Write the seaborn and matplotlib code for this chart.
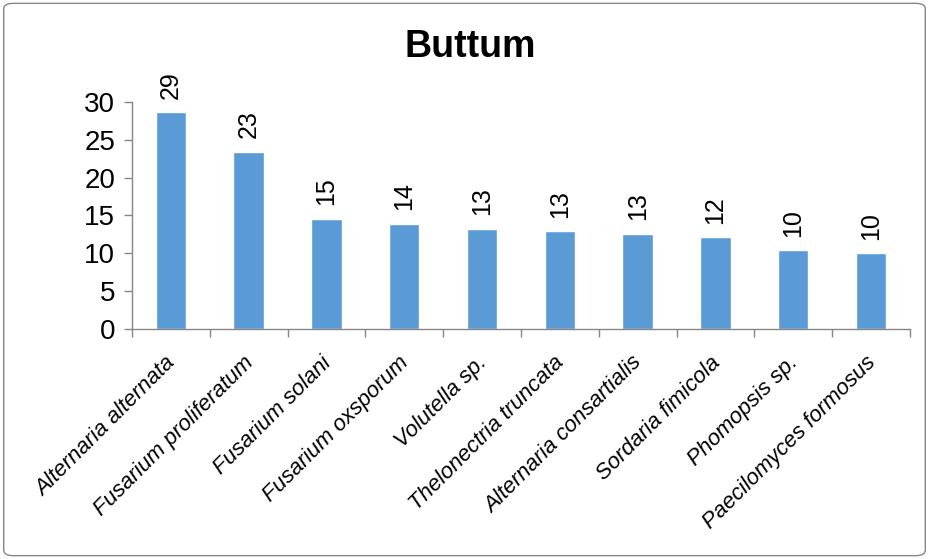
import matplotlib
matplotlib.use("Agg")
import matplotlib.pyplot as plt
import matplotlib.transforms as mtransforms
import pandas as pd
import seaborn as sns
from matplotlib.patches import FancyBboxPatch

species = ["Alternaria alternata", "Fusarium proliferatum", "Fusarium solani",
           "Fusarium oxsporum", "Volutella sp.", "Thelonectria truncata",
           "Alternaria consartialis", "Sordaria fimicola", "Phomopsis sp.",
           "Paecilomyces formosus"]
counts = [28.6, 23.4, 14.6, 13.9, 13.2, 12.9, 12.6, 12.1, 10.4, 10.0]
yticks = [0, 5, 10, 15, 20, 25, 30]

sns.set_style("white")
plt.rcParams['font.family'] = ['Liberation Sans', 'DejaVu Sans']
plt.rcParams['text.color'] = 'black'
plt.rcParams['xtick.labelcolor'] = 'black'
plt.rcParams['ytick.labelcolor'] = 'black'

df = pd.DataFrame({"species": species, "count": counts})

fig = plt.figure(figsize=(9.29, 5.59), dpi=100)
ax = fig.add_axes([0.142, 0.411, 0.8375, 0.407])

sns.barplot(data=df, x="species", y="count", color="#5B9BD5", width=0.39,
            saturation=1, ax=ax)

for i, v in enumerate(counts):
    ax.text(i, v + 1.8, f"{v:.0f}", rotation=90, ha="center", va="bottom",
            fontsize=18, color="black")

ax.set_xlim(-0.5, len(species) - 0.5)
ax.set_ylim(0, 30)
ax.set_yticks(yticks)
ax.set_xlabel("")
ax.set_ylabel("")
ax.tick_params(axis="y", labelsize=20, length=6, width=1, color="#868686",
               direction="out", left=True, pad=6, labelcolor="black")
ax.set_xticks(range(len(species)))
ax.set_xticklabels(species, rotation=45, ha="right", va="center",
                   rotation_mode="anchor", fontsize=16, style="italic",
                   color="black")
ax.tick_params(axis="x", which="major", length=0, pad=22)
offset = mtransforms.ScaledTranslation(1 / 72, 0, fig.dpi_scale_trans)
for lbl in ax.get_xticklabels():
    lbl.set_transform(lbl.get_transform() + offset)
ax.set_xticks([i - 0.5 for i in range(len(species) + 1)], minor=True)
ax.tick_params(axis="x", which="minor", length=6, width=1, color="#868686",
               direction="out", bottom=True)

for side in ["top", "right"]:
    ax.spines[side].set_visible(False)
for side in ["left", "bottom"]:
    ax.spines[side].set_color("#868686")
    ax.spines[side].set_linewidth(1)

fig.text(0.506, 0.916, "Buttum", ha="center", va="center", fontsize=27,
         fontweight="bold", color="black")

border = FancyBboxPatch((0.004, 0.006), 0.992, 0.988,
                        boxstyle="round,pad=0,rounding_size=0.01",
                        transform=fig.transFigure, fill=False,
                        edgecolor="#868686", linewidth=1)
fig.patches.append(border)

fig.savefig("out.png", dpi=100)
